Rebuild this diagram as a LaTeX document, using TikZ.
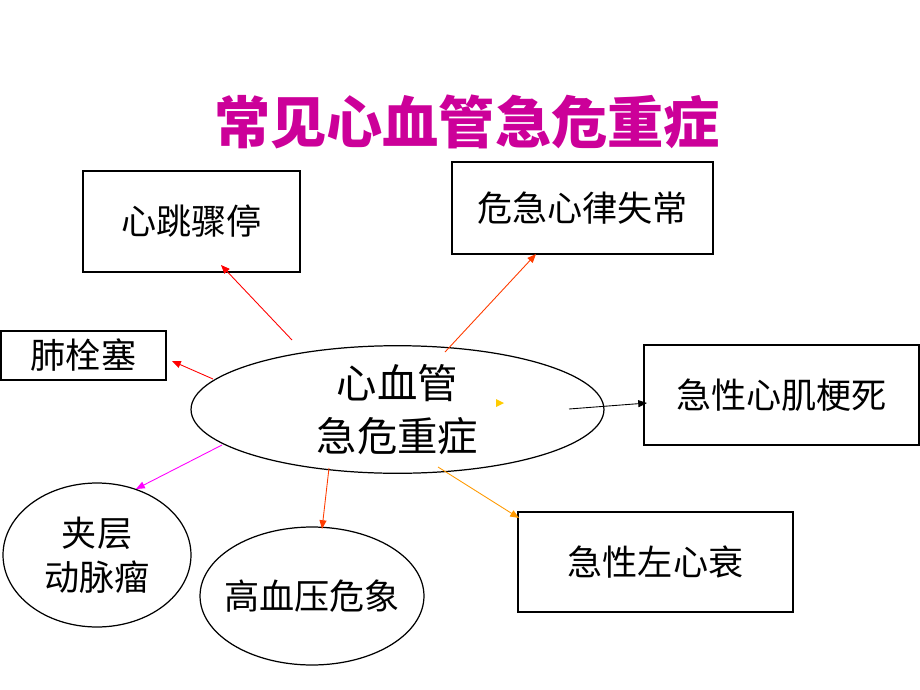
\documentclass[tikz,border=0pt]{standalone}
\usepackage{fontspec}
\setmainfont{Noto Sans CJK SC}
\usetikzlibrary{shapes.geometric,arrows.meta}

\definecolor{titlepink}{RGB}{204,0,153}
\definecolor{linkred}{RGB}{255,0,0}
\definecolor{linkorangered}{RGB}{255,60,0}
\definecolor{linkorange}{RGB}{255,153,0}
\definecolor{linkmagenta}{RGB}{255,0,255}
\definecolor{tipyellow}{RGB}{255,204,0}

\tikzset{
  box/.style={draw,line width=0.8pt,inner sep=0pt,font=\fontsize{20}{25}\selectfont},
  oval/.style={ellipse,draw,line width=0.7pt,inner sep=0pt,align=center,font=\fontsize{20}{25}\selectfont},
  link/.style={-{Triangle[length=5pt,width=4pt]},line width=0.5pt},
}

\begin{document}
\begin{tikzpicture}[x=0.02cm,y=-0.02cm]
            \useasboundingbox (0,0) rectangle (920,690);
            % title
            \node[font=\bfseries\fontsize{32}{32}\selectfont,text=titlepink] (title) at (467,122) {常见心血管急危重症};
            % boxes
            \node[box,minimum width=4.34cm,minimum height=2.02cm] (arrest) at (191.5,221.5) {心跳骤停};
            \node[box,minimum width=5.22cm,minimum height=1.84cm] (arrhythmia) at (582.5,208) {危急心律失常};
            \node[box,minimum width=3.30cm,minimum height=0.98cm] (embolism) at (83.5,355.5) {肺栓塞};
            \node[box,minimum width=5.50cm,minimum height=2.00cm] (infarct) at (781.5,395) {急性心肌梗死};
            \node[box,minimum width=5.50cm,minimum height=2.00cm] (failure) at (655.5,562) {急性左心衰};
            % ovals
            \node[oval,minimum width=8.26cm,minimum height=2.30cm,font=\fontsize{23}{30}\selectfont] (centre) at (397.5,409.5) {心血管\\急危重症};
            \node[oval,minimum width=3.76cm,minimum height=2.88cm] (dissection) at (97,555) {夹层\\动脉瘤};
            \node[oval,minimum width=4.48cm,minimum height=2.76cm] (hypertension) at (312,596) {};
            \node[font=\fontsize{20}{25}\selectfont] (hypertext) at (hypertension) {高血压危象};
            % arrow ends
            \coordinate (s1) at (292,340); \coordinate (e1) at (221,265);
            \coordinate (s2) at (213,379); \coordinate (e2) at (172,361);
            \coordinate (s3) at (445,352); \coordinate (e3) at (536,254);
            \coordinate (s4) at (569,409); \coordinate (e4) at (647,403);
            \coordinate (s5) at (438,467); \coordinate (e5) at (519,518);
            \coordinate (s6) at (329,468); \coordinate (e6) at (322,529);
            \coordinate (s7) at (222,445); \coordinate (e7) at (136,489);
            \draw[link,linkred] (s1) -- (e1);
            \draw[link,linkred] (s2) -- (e2);
            \draw[link,linkorangered] (s3) -- (e3);
            \draw[link,black] (s4) -- (e4);
            \draw[link,linkorange] (s5) -- (e5);
            \draw[link,linkorangered] (s6) -- (e6);
            \draw[link,linkmagenta] (s7) -- (e7);
            \fill[tipyellow] (496,399) -- (504,403) -- (496,407) -- cycle;
        \end{tikzpicture}
\end{document}
